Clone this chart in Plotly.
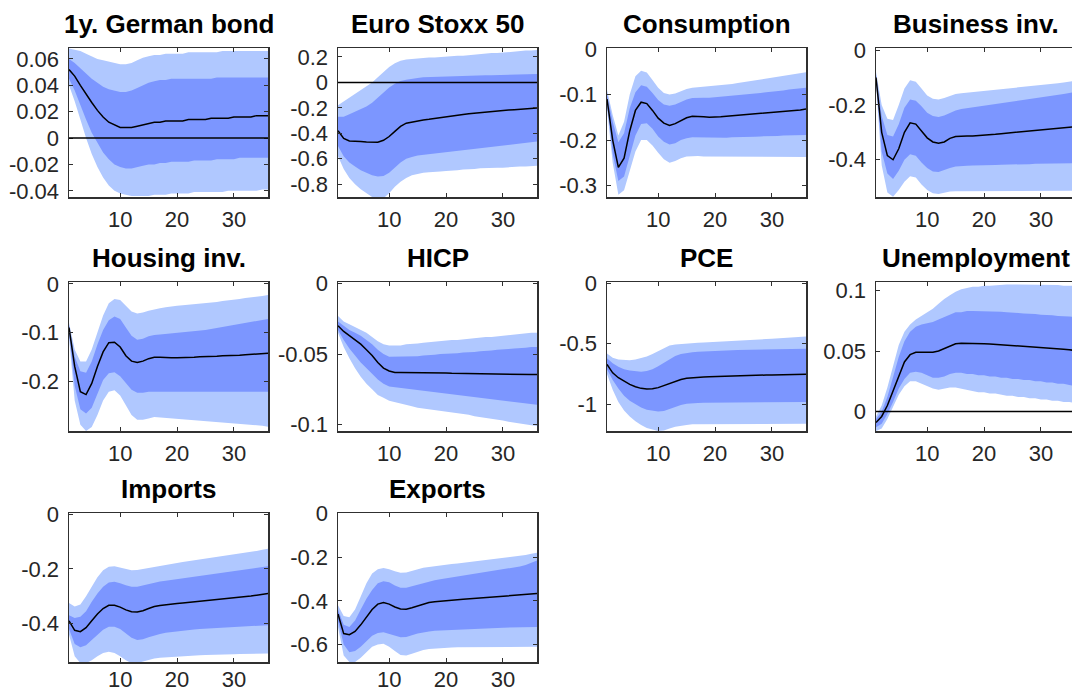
import plotly.graph_objects as go

# ---------------- data ----------------
horizon = list(range(1, 37))

titles = ["1y. German bond", "Euro Stoxx 50", "Consumption", "Business inv.",
          "Housing inv.", "HICP", "PCE", "Unemployment", "Imports", "Exports"]

# 1y German bond
bond_med = [0.052, 0.047, 0.040, 0.033, 0.027, 0.021, 0.016, 0.012, 0.010, 0.008, 0.008, 0.008, 0.009, 0.010, 0.011, 0.012, 0.012, 0.013, 0.013, 0.013, 0.013, 0.014, 0.014, 0.014, 0.014, 0.015, 0.015, 0.015, 0.015, 0.016, 0.016, 0.016, 0.016, 0.017, 0.017, 0.017]
bond_in_hi = [0.060, 0.057, 0.053, 0.049, 0.045, 0.042, 0.039, 0.037, 0.036, 0.035, 0.035, 0.036, 0.038, 0.040, 0.042, 0.043, 0.044, 0.044, 0.045, 0.045, 0.045, 0.045, 0.045, 0.045, 0.045, 0.045, 0.046, 0.046, 0.046, 0.046, 0.046, 0.046, 0.046, 0.046, 0.046, 0.046]
bond_in_lo = [0.045, 0.036, 0.025, 0.014, 0.004, -0.004, -0.011, -0.016, -0.020, -0.022, -0.023, -0.023, -0.022, -0.021, -0.020, -0.020, -0.019, -0.019, -0.018, -0.018, -0.018, -0.018, -0.017, -0.017, -0.017, -0.017, -0.016, -0.016, -0.016, -0.016, -0.015, -0.015, -0.015, -0.015, -0.015, -0.015]
bond_out_hi = [0.068, 0.067, 0.066, 0.064, 0.062, 0.060, 0.059, 0.058, 0.057, 0.056, 0.056, 0.057, 0.059, 0.061, 0.062, 0.063, 0.063, 0.064, 0.064, 0.064, 0.064, 0.065, 0.065, 0.065, 0.065, 0.065, 0.065, 0.066, 0.066, 0.066, 0.066, 0.066, 0.066, 0.066, 0.066, 0.066]
bond_out_lo = [0.040, 0.028, 0.014, 0.000, -0.012, -0.022, -0.030, -0.036, -0.040, -0.042, -0.043, -0.044, -0.044, -0.044, -0.044, -0.043, -0.043, -0.043, -0.042, -0.042, -0.042, -0.042, -0.041, -0.041, -0.041, -0.041, -0.041, -0.041, -0.040, -0.040, -0.040, -0.040, -0.040, -0.040, -0.039, -0.039]

# Euro Stoxx 50
stoxx_med = [-0.38, -0.44, -0.46, -0.465, -0.465, -0.468, -0.47, -0.47, -0.455, -0.425, -0.385, -0.345, -0.32, -0.31, -0.30, -0.295, -0.29, -0.283, -0.277, -0.27, -0.263, -0.257, -0.252, -0.247, -0.242, -0.237, -0.232, -0.228, -0.224, -0.22, -0.217, -0.214, -0.211, -0.208, -0.205, -0.202]
stoxx_in_hi = [-0.27, -0.27, -0.25, -0.23, -0.21, -0.19, -0.16, -0.12, -0.08, -0.04, -0.01, 0.01, 0.02, 0.03, 0.035, 0.04, 0.042, 0.044, 0.046, 0.048, 0.05, 0.051, 0.052, 0.053, 0.054, 0.055, 0.056, 0.057, 0.058, 0.059, 0.06, 0.061, 0.062, 0.063, 0.064, 0.065]
stoxx_in_lo = [-0.50, -0.58, -0.63, -0.66, -0.69, -0.71, -0.73, -0.74, -0.735, -0.71, -0.67, -0.63, -0.60, -0.585, -0.575, -0.565, -0.56, -0.555, -0.55, -0.545, -0.54, -0.535, -0.53, -0.525, -0.52, -0.515, -0.51, -0.505, -0.50, -0.495, -0.49, -0.485, -0.48, -0.475, -0.47, -0.465]
stoxx_out_hi = [-0.18, -0.15, -0.12, -0.09, -0.06, -0.03, 0.00, 0.04, 0.08, 0.12, 0.15, 0.17, 0.18, 0.185, 0.19, 0.19, 0.195, 0.195, 0.20, 0.20, 0.205, 0.21, 0.21, 0.215, 0.22, 0.22, 0.225, 0.23, 0.23, 0.235, 0.24, 0.24, 0.245, 0.25, 0.25, 0.255]
stoxx_out_lo = [-0.58, -0.68, -0.75, -0.80, -0.84, -0.87, -0.90, -0.92, -0.91, -0.87, -0.82, -0.78, -0.75, -0.73, -0.72, -0.71, -0.705, -0.70, -0.70, -0.695, -0.69, -0.69, -0.685, -0.68, -0.68, -0.675, -0.675, -0.67, -0.67, -0.67, -0.665, -0.665, -0.66, -0.66, -0.66, -0.655]

# Consumption
cons_med = [-0.11, -0.20, -0.26, -0.24, -0.18, -0.135, -0.117, -0.12, -0.135, -0.152, -0.163, -0.168, -0.164, -0.157, -0.151, -0.148, -0.148, -0.149, -0.150, -0.150, -0.149, -0.148, -0.147, -0.146, -0.145, -0.144, -0.143, -0.142, -0.141, -0.140, -0.139, -0.138, -0.136, -0.135, -0.134, -0.132]
cons_in_hi = [-0.10, -0.16, -0.205, -0.185, -0.13, -0.095, -0.08, -0.083, -0.097, -0.112, -0.122, -0.125, -0.122, -0.116, -0.111, -0.108, -0.107, -0.107, -0.107, -0.106, -0.105, -0.104, -0.103, -0.102, -0.101, -0.100, -0.098, -0.097, -0.095, -0.094, -0.092, -0.091, -0.089, -0.088, -0.086, -0.085]
cons_in_lo = [-0.12, -0.23, -0.29, -0.28, -0.235, -0.19, -0.165, -0.163, -0.175, -0.192, -0.204, -0.21, -0.207, -0.200, -0.196, -0.194, -0.194, -0.195, -0.195, -0.195, -0.195, -0.195, -0.194, -0.194, -0.194, -0.193, -0.193, -0.192, -0.192, -0.191, -0.191, -0.190, -0.190, -0.190, -0.189, -0.189]
cons_out_hi = [-0.09, -0.145, -0.19, -0.16, -0.10, -0.06, -0.048, -0.052, -0.068, -0.085, -0.097, -0.10, -0.098, -0.093, -0.088, -0.085, -0.084, -0.083, -0.082, -0.081, -0.080, -0.078, -0.077, -0.075, -0.073, -0.071, -0.069, -0.067, -0.065, -0.063, -0.061, -0.059, -0.057, -0.055, -0.053, -0.051]
cons_out_lo = [-0.13, -0.25, -0.32, -0.31, -0.27, -0.225, -0.20, -0.20, -0.212, -0.228, -0.242, -0.25, -0.246, -0.240, -0.236, -0.235, -0.235, -0.236, -0.236, -0.237, -0.237, -0.237, -0.237, -0.237, -0.237, -0.237, -0.237, -0.237, -0.237, -0.237, -0.237, -0.237, -0.237, -0.237, -0.237, -0.237]

# Business investment
bus_med = [-0.10, -0.30, -0.385, -0.40, -0.36, -0.30, -0.265, -0.27, -0.295, -0.32, -0.335, -0.34, -0.335, -0.322, -0.315, -0.313, -0.313, -0.313, -0.312, -0.311, -0.309, -0.307, -0.305, -0.303, -0.301, -0.299, -0.297, -0.295, -0.293, -0.291, -0.289, -0.287, -0.285, -0.283, -0.281, -0.279]
bus_in_hi = [-0.09, -0.24, -0.31, -0.315, -0.27, -0.21, -0.18, -0.185, -0.205, -0.228, -0.24, -0.244, -0.238, -0.228, -0.22, -0.215, -0.212, -0.21, -0.207, -0.204, -0.201, -0.198, -0.195, -0.192, -0.189, -0.186, -0.183, -0.18, -0.177, -0.174, -0.171, -0.168, -0.164, -0.16, -0.156, -0.152]
bus_in_lo = [-0.11, -0.37, -0.45, -0.47, -0.44, -0.40, -0.38, -0.385, -0.41, -0.43, -0.443, -0.445, -0.438, -0.43, -0.425, -0.423, -0.422, -0.421, -0.42, -0.42, -0.419, -0.419, -0.418, -0.418, -0.417, -0.417, -0.416, -0.416, -0.415, -0.415, -0.415, -0.414, -0.414, -0.413, -0.413, -0.413]
bus_out_hi = [-0.08, -0.20, -0.25, -0.255, -0.20, -0.14, -0.11, -0.115, -0.14, -0.165, -0.177, -0.18, -0.175, -0.166, -0.16, -0.157, -0.155, -0.153, -0.151, -0.149, -0.147, -0.145, -0.143, -0.141, -0.139, -0.137, -0.135, -0.133, -0.131, -0.129, -0.127, -0.124, -0.121, -0.118, -0.115, -0.112]
bus_out_lo = [-0.12, -0.42, -0.52, -0.535, -0.51, -0.48, -0.46, -0.465, -0.49, -0.51, -0.522, -0.525, -0.52, -0.516, -0.515, -0.515, -0.515, -0.515, -0.515, -0.515, -0.515, -0.515, -0.515, -0.514, -0.514, -0.514, -0.514, -0.514, -0.514, -0.513, -0.513, -0.513, -0.513, -0.513, -0.513, -0.513]

# Housing investment
hous_med = [-0.09, -0.17, -0.222, -0.228, -0.205, -0.17, -0.14, -0.121, -0.12, -0.13, -0.148, -0.159, -0.162, -0.159, -0.154, -0.151, -0.151, -0.152, -0.152, -0.152, -0.152, -0.151, -0.151, -0.150, -0.150, -0.149, -0.149, -0.148, -0.148, -0.147, -0.147, -0.146, -0.145, -0.145, -0.144, -0.143]
hous_in_hi = [-0.085, -0.15, -0.18, -0.183, -0.16, -0.125, -0.095, -0.075, -0.067, -0.072, -0.09, -0.107, -0.115, -0.113, -0.108, -0.105, -0.104, -0.103, -0.102, -0.101, -0.100, -0.099, -0.098, -0.097, -0.095, -0.093, -0.091, -0.089, -0.087, -0.085, -0.083, -0.081, -0.079, -0.077, -0.075, -0.072]
hous_in_lo = [-0.10, -0.21, -0.258, -0.267, -0.255, -0.225, -0.198, -0.184, -0.182, -0.19, -0.205, -0.218, -0.224, -0.224, -0.222, -0.221, -0.221, -0.221, -0.221, -0.221, -0.221, -0.221, -0.221, -0.221, -0.221, -0.221, -0.222, -0.222, -0.222, -0.222, -0.222, -0.222, -0.222, -0.222, -0.222, -0.222]
hous_out_hi = [-0.08, -0.135, -0.16, -0.16, -0.135, -0.10, -0.065, -0.04, -0.031, -0.033, -0.045, -0.057, -0.061, -0.059, -0.055, -0.052, -0.050, -0.048, -0.046, -0.045, -0.044, -0.043, -0.042, -0.041, -0.040, -0.038, -0.037, -0.035, -0.034, -0.032, -0.031, -0.029, -0.028, -0.026, -0.025, -0.023]
hous_out_lo = [-0.11, -0.24, -0.29, -0.303, -0.295, -0.27, -0.24, -0.222, -0.219, -0.23, -0.25, -0.27, -0.28, -0.28, -0.277, -0.274, -0.274, -0.275, -0.276, -0.277, -0.278, -0.279, -0.28, -0.281, -0.282, -0.283, -0.284, -0.285, -0.286, -0.287, -0.288, -0.289, -0.29, -0.291, -0.292, -0.294]

# HICP
hicp_med = [-0.030, -0.034, -0.037, -0.040, -0.043, -0.047, -0.051, -0.056, -0.060, -0.062, -0.063, -0.063, -0.063, -0.063, -0.063, -0.063, -0.063, -0.063, -0.0632, -0.0634, -0.0636, -0.0637, -0.0638, -0.0639, -0.064, -0.064, -0.064, -0.064, -0.064, -0.064, -0.0641, -0.0642, -0.0643, -0.0644, -0.0645, -0.0645]
hicp_in_hi = [-0.027, -0.030, -0.033, -0.035, -0.037, -0.040, -0.043, -0.047, -0.050, -0.052, -0.052, -0.052, -0.052, -0.052, -0.0515, -0.051, -0.051, -0.0505, -0.050, -0.050, -0.0495, -0.0495, -0.049, -0.049, -0.0485, -0.048, -0.048, -0.0475, -0.047, -0.047, -0.0465, -0.046, -0.046, -0.0455, -0.045, -0.045]
hicp_in_lo = [-0.033, -0.040, -0.046, -0.051, -0.056, -0.060, -0.064, -0.068, -0.071, -0.073, -0.074, -0.074, -0.075, -0.075, -0.0755, -0.076, -0.0765, -0.077, -0.0775, -0.078, -0.0785, -0.079, -0.0795, -0.080, -0.0805, -0.081, -0.0815, -0.082, -0.0825, -0.083, -0.0835, -0.084, -0.0845, -0.085, -0.0855, -0.086]
hicp_out_hi = [-0.023, -0.027, -0.029, -0.031, -0.033, -0.035, -0.038, -0.041, -0.043, -0.044, -0.044, -0.044, -0.043, -0.043, -0.0425, -0.042, -0.0415, -0.041, -0.041, -0.0405, -0.040, -0.040, -0.0395, -0.039, -0.039, -0.0385, -0.038, -0.038, -0.0375, -0.037, -0.0365, -0.036, -0.036, -0.0355, -0.035, -0.035]
hicp_out_lo = [-0.035, -0.045, -0.053, -0.060, -0.066, -0.071, -0.075, -0.079, -0.081, -0.083, -0.084, -0.085, -0.086, -0.087, -0.088, -0.0885, -0.089, -0.0895, -0.090, -0.0905, -0.091, -0.092, -0.0925, -0.093, -0.094, -0.0945, -0.095, -0.096, -0.0965, -0.097, -0.098, -0.0985, -0.099, -0.100, -0.1005, -0.101]

# PCE
pce_med = [-0.67, -0.74, -0.78, -0.81, -0.835, -0.855, -0.868, -0.874, -0.872, -0.862, -0.845, -0.825, -0.808, -0.795, -0.785, -0.78, -0.777, -0.774, -0.772, -0.77, -0.768, -0.766, -0.764, -0.763, -0.762, -0.761, -0.76, -0.759, -0.758, -0.757, -0.756, -0.755, -0.754, -0.753, -0.752, -0.751]
pce_in_hi = [-0.62, -0.66, -0.69, -0.71, -0.72, -0.725, -0.73, -0.725, -0.71, -0.685, -0.655, -0.625, -0.60, -0.585, -0.575, -0.57, -0.566, -0.563, -0.56, -0.558, -0.556, -0.554, -0.553, -0.552, -0.551, -0.55, -0.549, -0.548, -0.547, -0.546, -0.545, -0.544, -0.543, -0.542, -0.541, -0.54]
pce_in_lo = [-0.71, -0.80, -0.87, -0.93, -0.97, -1.0, -1.025, -1.045, -1.055, -1.06, -1.055, -1.04, -1.02, -1.005, -0.995, -0.99, -0.988, -0.986, -0.985, -0.984, -0.983, -0.982, -0.982, -0.981, -0.981, -0.98, -0.98, -0.98, -0.98, -0.98, -0.98, -0.98, -0.98, -0.98, -0.98, -0.98]
pce_out_hi = [-0.58, -0.615, -0.63, -0.635, -0.635, -0.63, -0.62, -0.605, -0.585, -0.56, -0.535, -0.515, -0.505, -0.5, -0.497, -0.494, -0.491, -0.489, -0.487, -0.485, -0.482, -0.48, -0.477, -0.475, -0.472, -0.47, -0.467, -0.464, -0.461, -0.458, -0.455, -0.452, -0.449, -0.446, -0.443, -0.44]
pce_out_lo = [-0.75, -0.88, -0.98, -1.05, -1.10, -1.14, -1.17, -1.195, -1.21, -1.22, -1.215, -1.2, -1.185, -1.175, -1.17, -1.165, -1.163, -1.162, -1.161, -1.16, -1.16, -1.16, -1.16, -1.16, -1.16, -1.16, -1.16, -1.16, -1.16, -1.16, -1.16, -1.16, -1.16, -1.16, -1.16, -1.16]

# Unemployment
unemp_med = [-0.009, -0.004, 0.005, 0.017, 0.030, 0.041, 0.047, 0.049, 0.049, 0.049, 0.049, 0.050, 0.052, 0.054, 0.056, 0.0565, 0.0565, 0.0565, 0.0563, 0.056, 0.0558, 0.0555, 0.0553, 0.055, 0.0547, 0.0543, 0.054, 0.0537, 0.0533, 0.053, 0.0527, 0.0523, 0.052, 0.0515, 0.051, 0.0505]
unemp_in_hi = [-0.006, 0.000, 0.012, 0.028, 0.045, 0.058, 0.066, 0.070, 0.072, 0.073, 0.074, 0.076, 0.078, 0.080, 0.082, 0.082, 0.083, 0.083, 0.083, 0.083, 0.083, 0.083, 0.0825, 0.082, 0.082, 0.0815, 0.081, 0.081, 0.0805, 0.080, 0.080, 0.0795, 0.079, 0.079, 0.0785, 0.078]
unemp_in_lo = [-0.013, -0.010, -0.002, 0.008, 0.019, 0.027, 0.032, 0.033, 0.032, 0.030, 0.028, 0.028, 0.029, 0.031, 0.032, 0.032, 0.031, 0.031, 0.030, 0.030, 0.029, 0.029, 0.028, 0.028, 0.027, 0.027, 0.026, 0.026, 0.025, 0.025, 0.024, 0.024, 0.023, 0.023, 0.022, 0.021]
unemp_out_hi = [-0.004, 0.005, 0.020, 0.038, 0.055, 0.066, 0.072, 0.076, 0.079, 0.082, 0.085, 0.089, 0.093, 0.096, 0.099, 0.101, 0.102, 0.103, 0.103, 0.104, 0.104, 0.1045, 0.1045, 0.105, 0.105, 0.105, 0.105, 0.105, 0.105, 0.105, 0.105, 0.1045, 0.1045, 0.104, 0.104, 0.104]
unemp_out_lo = [-0.016, -0.014, -0.006, 0.004, 0.014, 0.021, 0.025, 0.025, 0.023, 0.021, 0.019, 0.018, 0.019, 0.020, 0.020, 0.019, 0.018, 0.017, 0.016, 0.016, 0.015, 0.015, 0.014, 0.013, 0.013, 0.012, 0.012, 0.011, 0.011, 0.010, 0.010, 0.009, 0.009, 0.008, 0.008, 0.007]

# Imports
imp_med = [-0.39, -0.425, -0.43, -0.415, -0.39, -0.365, -0.345, -0.333, -0.333, -0.34, -0.35, -0.357, -0.358, -0.353, -0.345, -0.338, -0.334, -0.331, -0.329, -0.327, -0.325, -0.323, -0.321, -0.319, -0.317, -0.315, -0.313, -0.311, -0.309, -0.307, -0.305, -0.302, -0.299, -0.296, -0.293, -0.29]
imp_in_hi = [-0.37, -0.38, -0.375, -0.355, -0.32, -0.29, -0.265, -0.25, -0.247, -0.252, -0.26, -0.265, -0.265, -0.26, -0.255, -0.25, -0.246, -0.243, -0.24, -0.237, -0.234, -0.231, -0.228, -0.225, -0.222, -0.219, -0.216, -0.213, -0.21, -0.207, -0.204, -0.201, -0.198, -0.195, -0.192, -0.19]
imp_in_lo = [-0.42, -0.475, -0.487, -0.48, -0.46, -0.44, -0.423, -0.412, -0.412, -0.42, -0.435, -0.452, -0.46, -0.458, -0.45, -0.443, -0.438, -0.434, -0.431, -0.428, -0.426, -0.424, -0.422, -0.42, -0.418, -0.416, -0.415, -0.414, -0.413, -0.412, -0.411, -0.41, -0.409, -0.408, -0.407, -0.406]
imp_out_hi = [-0.325, -0.338, -0.33, -0.30, -0.265, -0.23, -0.205, -0.192, -0.19, -0.195, -0.202, -0.205, -0.204, -0.2, -0.196, -0.192, -0.188, -0.184, -0.181, -0.178, -0.175, -0.172, -0.169, -0.166, -0.163, -0.16, -0.157, -0.154, -0.151, -0.148, -0.145, -0.142, -0.138, -0.134, -0.13, -0.126]
imp_out_lo = [-0.44, -0.52, -0.545, -0.545, -0.535, -0.52, -0.508, -0.503, -0.508, -0.52, -0.535, -0.545, -0.545, -0.54, -0.533, -0.528, -0.525, -0.523, -0.521, -0.52, -0.519, -0.518, -0.517, -0.516, -0.515, -0.515, -0.514, -0.514, -0.513, -0.513, -0.512, -0.512, -0.511, -0.511, -0.51, -0.51]

# Exports
exp_med = [-0.46, -0.55, -0.555, -0.54, -0.51, -0.475, -0.44, -0.415, -0.408, -0.415, -0.428, -0.437, -0.438, -0.432, -0.423, -0.414, -0.408, -0.404, -0.401, -0.399, -0.397, -0.395, -0.393, -0.391, -0.389, -0.387, -0.385, -0.383, -0.381, -0.379, -0.377, -0.375, -0.373, -0.371, -0.369, -0.367]
exp_in_hi = [-0.44, -0.51, -0.52, -0.49, -0.44, -0.39, -0.35, -0.32, -0.31, -0.315, -0.33, -0.34, -0.34, -0.333, -0.325, -0.317, -0.311, -0.306, -0.301, -0.297, -0.293, -0.289, -0.285, -0.281, -0.277, -0.273, -0.269, -0.265, -0.261, -0.257, -0.253, -0.248, -0.243, -0.236, -0.226, -0.215]
exp_in_lo = [-0.49, -0.60, -0.635, -0.63, -0.61, -0.585, -0.56, -0.547, -0.544, -0.55, -0.56, -0.567, -0.566, -0.558, -0.55, -0.544, -0.54, -0.537, -0.535, -0.533, -0.532, -0.531, -0.53, -0.529, -0.528, -0.527, -0.526, -0.525, -0.524, -0.523, -0.522, -0.521, -0.521, -0.52, -0.52, -0.52]
exp_out_hi = [-0.42, -0.47, -0.475, -0.44, -0.38, -0.32, -0.275, -0.255, -0.25, -0.255, -0.265, -0.272, -0.27, -0.262, -0.255, -0.249, -0.245, -0.241, -0.238, -0.235, -0.232, -0.229, -0.226, -0.223, -0.22, -0.217, -0.214, -0.211, -0.208, -0.205, -0.202, -0.199, -0.195, -0.19, -0.185, -0.18]
exp_out_lo = [-0.52, -0.65, -0.68, -0.68, -0.66, -0.635, -0.61, -0.6, -0.597, -0.61, -0.63, -0.648, -0.65, -0.642, -0.632, -0.625, -0.621, -0.618, -0.616, -0.615, -0.614, -0.613, -0.612, -0.612, -0.611, -0.611, -0.61, -0.61, -0.61, -0.61, -0.61, -0.61, -0.61, -0.61, -0.61, -0.61]

x_tickvals = [10, 20, 30]
y_tickvals = [
    [-0.04, -0.02, 0, 0.02, 0.04, 0.06],
    [-0.8, -0.6, -0.4, -0.2, 0, 0.2],
    [-0.3, -0.2, -0.1, 0],
    [-0.4, -0.2, 0],
    [-0.2, -0.1, 0],
    [-0.1, -0.05, 0],
    [-1, -0.5, 0],
    [0, 0.05, 0.1],
    [-0.4, -0.2, 0],
    [-0.6, -0.4, -0.2, 0],
]
y_ticktext = [
    ["-0.04", "-0.02", "0", "0.02", "0.04", "0.06"],
    ["-0.8", "-0.6", "-0.4", "-0.2", "0", "0.2"],
    ["-0.3", "-0.2", "-0.1", "0"],
    ["-0.4", "-0.2", "0"],
    ["-0.2", "-0.1", "0"],
    ["-0.1", "-0.05", "0"],
    ["-1", "-0.5", "0"],
    ["0", "0.05", "0.1"],
    ["-0.4", "-0.2", "0"],
    ["-0.6", "-0.4", "-0.2", "0"],
]

series = [
    (bond_med, bond_in_lo, bond_in_hi, bond_out_lo, bond_out_hi),
    (stoxx_med, stoxx_in_lo, stoxx_in_hi, stoxx_out_lo, stoxx_out_hi),
    (cons_med, cons_in_lo, cons_in_hi, cons_out_lo, cons_out_hi),
    (bus_med, bus_in_lo, bus_in_hi, bus_out_lo, bus_out_hi),
    (hous_med, hous_in_lo, hous_in_hi, hous_out_lo, hous_out_hi),
    (hicp_med, hicp_in_lo, hicp_in_hi, hicp_out_lo, hicp_out_hi),
    (pce_med, pce_in_lo, pce_in_hi, pce_out_lo, pce_out_hi),
    (unemp_med, unemp_in_lo, unemp_in_hi, unemp_out_lo, unemp_out_hi),
    (imp_med, imp_in_lo, imp_in_hi, imp_out_lo, imp_out_hi),
    (exp_med, exp_in_lo, exp_in_hi, exp_out_lo, exp_out_hi),
]

# ---------------- layout config ----------------
W, H = 1072, 695
y_ranges = [
    [-0.0447, 0.0683], [-0.90, 0.27], [-0.325, 0.002], [-0.536, 0.008],
    [-0.303, 0.004], [-0.1045, 0.001], [-1.22, 0.01], [-0.016, 0.107],
    [-0.541, 0.005], [-0.68, 0.002],
]
show_zero = [True, True, False, False, False, False, False, True, False, False]

col_px = [(69, 268), (338, 537), (607, 806), (876, 1075)]
row_px = [(48, 197), (282, 431), (513, 662)]
px_per_unit = (col_px[0][1] - col_px[0][0]) / 35.0

LIGHT = "rgb(176,200,255)"
DARK = "rgb(124,150,255)"
AXC = "#303030"
FONT = "Liberation Sans, Arial, sans-serif"
TICK_SIZE = 22
TITLE_SIZE = 26

fig = go.Figure()
layout = dict(
    width=W, height=H,
    margin=dict(l=0, r=0, t=0, b=0, pad=0, autoexpand=False),
    paper_bgcolor="white", plot_bgcolor="white", showlegend=False,
    font=dict(family=FONT, size=TICK_SIZE, color="#262626"),
)
annotations = []
shapes = []

for i, (title, (med, ilo, ihi, olo, ohi)) in enumerate(zip(titles, series)):
    r, c = divmod(i, 4)
    n = i + 1
    xa = "x" if n == 1 else f"x{n}"
    ya = "y" if n == 1 else f"y{n}"
    x0p, x1p = col_px[c]
    y0p, y1p = row_px[r]
    clipped = x1p > W
    x_end = 1 + (min(x1p, W) - x0p) / px_per_unit if clipped else 36
    xdom = [x0p / W, min(x1p, W) / W]
    ydom = [1 - y1p / H, 1 - y0p / H]

    fig.add_trace(go.Scatter(
        x=horizon + horizon[::-1], y=ohi + olo[::-1], fill="toself",
        fillcolor=LIGHT, line=dict(width=0), mode="lines",
        xaxis=xa, yaxis=ya, hoverinfo="skip"))
    fig.add_trace(go.Scatter(
        x=horizon + horizon[::-1], y=ihi + ilo[::-1], fill="toself",
        fillcolor=DARK, line=dict(width=0), mode="lines",
        xaxis=xa, yaxis=ya, hoverinfo="skip"))
    fig.add_trace(go.Scatter(
        x=horizon, y=med, mode="lines", line=dict(color="black", width=1.5),
        xaxis=xa, yaxis=ya))

    if show_zero[i]:
        shapes.append(dict(type="line", xref=f"{xa} domain", yref=ya,
                           x0=0, x1=1, y0=0, y1=0,
                           line=dict(color="black", width=1.5), layer="above"))

    xkey = "xaxis" if n == 1 else f"xaxis{n}"
    ykey = "yaxis" if n == 1 else f"yaxis{n}"
    layout[xkey] = dict(
        domain=xdom, range=[1, x_end], anchor=ya,
        tickvals=x_tickvals, ticks="inside", ticklen=4, tickwidth=1,
        tickcolor=AXC, showline=True, linecolor=AXC, linewidth=1.5,
        mirror="ticks", showgrid=False, zeroline=False,
        tickfont=dict(size=TICK_SIZE, color="#262626", family=FONT),
        ticklabelstandoff=2 if r < 2 else -3,
    )
    layout[ykey] = dict(
        domain=ydom, range=y_ranges[i], anchor=xa,
        tickvals=y_tickvals[i], ticktext=y_ticktext[i],
        ticks="inside", ticklen=4, tickwidth=1, tickcolor=AXC,
        showline=True, linecolor=AXC, linewidth=1.5,
        mirror=False if clipped else "ticks", showgrid=False, zeroline=False,
        tickfont=dict(size=TICK_SIZE, color="#262626", family=FONT),
        ticklabelstandoff=4,
    )
    annotations.append(dict(
        text=f"<b>{title}</b>", xref="paper", yref="paper",
        x=((x0p + x1p) / 2) / W, y=1 - (y0p - 7) / H,
        xanchor="center", yanchor="bottom", showarrow=False,
        font=dict(size=TITLE_SIZE, color="black", family=FONT)))

layout["annotations"] = annotations
layout["shapes"] = shapes
fig.update_layout(**layout)

fig.write_html(
    "out.html",
    config={"displayModeBar": False, "staticPlot": True},
    post_script="document.body.style.margin='0';document.body.style.overflow='hidden';",
)
